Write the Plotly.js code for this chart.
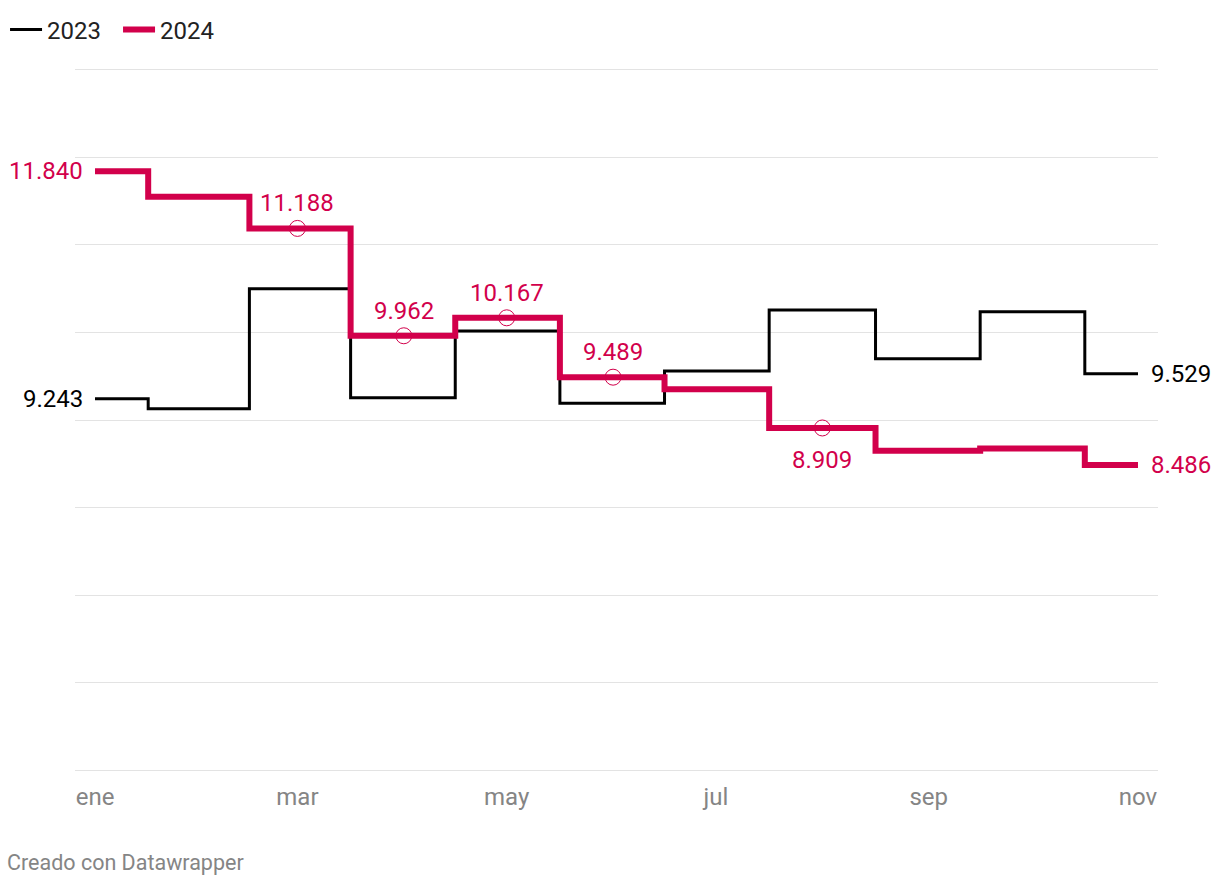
<!DOCTYPE html>
<html>
<head>
<meta charset="utf-8">
<script src="https://cdn.plot.ly/plotly-3.0.1.min.js"></script>
<style>
html,body{margin:0;padding:0;background:#fff;}
#chart{width:1220px;height:886px;}
</style>
</head>
<body>
<div id="chart"></div>
<script>
// Data
var months = ['ene','feb','mar','abr','may','jun','jul','ago','sep','oct','nov'];
var dates = ['2023-01-01','2023-02-01','2023-03-01','2023-04-01','2023-05-01','2023-06-01',
             '2023-07-01','2023-08-01','2023-09-01','2023-10-01','2023-11-01'];
var tickLabels = ['ene','mar','may','jul','sep','nov'];
var values2023 = [9243, 9129, 10499, 9255, 10015, 9190, 9560, 10255, 9700, 10235, 9529];
var values2024 = [11840, 11550, 11188, 9962, 10167, 9489, 9350, 8909, 8650, 8675, 8486];
var markedMonths2024 = ['mar','abr','may','jun','ago'];
var gridValues = [5000,6000,7000,8000,9000,10000,11000,12000,13000];

var RED = '#d2004b';
var BLACK = '#000000';
var GRAY = '#858585';

function fmtEs(v){
  var s = String(Math.round(v));
  return s.replace(/\B(?=(\d{3})+(?!\d))/g, '.');
}
function dateOf(m){ return dates[months.indexOf(m)]; }

var tickDates = tickLabels.map(dateOf);
var markX = markedMonths2024.map(dateOf);
var markY = markedMonths2024.map(function(m){ return values2024[months.indexOf(m)]; });

var traces = [
  {x: dates, y: values2023, type:'scatter', mode:'lines', name:'2023',
   line:{color:BLACK, width:3, shape:'hvh'}, hoverinfo:'skip'},
  {x: dates, y: values2024, type:'scatter', mode:'lines', name:'2024',
   line:{color:RED, width:6, shape:'hvh'}, hoverinfo:'skip'},
  {x: markX, y: markY, type:'scatter', mode:'markers', showlegend:false,
   marker:{symbol:'circle-open', size:16, color:RED, line:{width:1, color:RED}}, hoverinfo:'skip'}
];

var annotations = [];
var labelFont = {family:'Roboto, sans-serif', size:24};
var last = months.length - 1;
annotations.push({x: dates[0], y: values2024[0], xref:'x', yref:'y', text: fmtEs(values2024[0]),
  showarrow:false, xanchor:'right', yanchor:'middle', xshift:-10, font:Object.assign({color:RED}, labelFont)});
annotations.push({x: dates[0], y: values2023[0], xref:'x', yref:'y', text: fmtEs(values2023[0]),
  showarrow:false, xanchor:'right', yanchor:'middle', xshift:-10, font:Object.assign({color:BLACK}, labelFont)});
annotations.push({x: dates[last], y: values2023[last], xref:'x', yref:'y', text: fmtEs(values2023[last]),
  showarrow:false, xanchor:'left', yanchor:'middle', xshift:11, font:Object.assign({color:BLACK}, labelFont)});
annotations.push({x: dates[last], y: values2024[last], xref:'x', yref:'y', text: fmtEs(values2024[last]),
  showarrow:false, xanchor:'left', yanchor:'middle', xshift:11, font:Object.assign({color:RED}, labelFont)});
markedMonths2024.forEach(function(m, i){
  var below = (m === 'ago');
  annotations.push({x: markX[i], y: markY[i], xref:'x', yref:'y', text: fmtEs(markY[i]),
    showarrow:false, xanchor:'center', yanchor:'middle', yshift: below ? -32 : 25,
    font:Object.assign({color:RED}, labelFont)});
});
annotations.push({x:-0.0645, y:-0.128, xref:'paper', yref:'paper', text:'Creado con Datawrapper',
  showarrow:false, xanchor:'left', yanchor:'middle', font:{family:'Roboto, sans-serif', size:21.5, color:GRAY}});

var layout = {
  width:1220, height:886,
  margin:{l:75, r:62, t:68, b:114, autoexpand:false},
  paper_bgcolor:'#fff', plot_bgcolor:'#fff',
  font:{family:'Roboto, sans-serif', size:24, color:'#222'},
  separators:',.',
  showlegend:true,
  legend:{orientation:'h', x:-0.0646, xanchor:'left', y:1.054, yanchor:'middle',
    entrywidth:66, entrywidthmode:'pixels', itemwidth:32,
    font:{family:'Roboto, sans-serif', size:24, color:'#222'}, itemclick:false, traceorder:'normal'},
  xaxis:{type:'date', range:['2022-12-26 04:00', '2023-11-06 20:00'], tickmode:'array', tickvals:tickDates, ticktext:tickLabels,
    showgrid:false, zeroline:false, showline:false, ticks:'', ticklabelstandoff:8,
    tickfont:{size:24, color:GRAY}, fixedrange:true},
  yaxis:{range:[4980, 13020], tickmode:'array', tickvals:gridValues,
    showticklabels:false, showgrid:true, gridcolor:'#e3e3e3', gridwidth:1, zeroline:false, showline:false, ticks:'', fixedrange:true},
  annotations: annotations
};

Plotly.newPlot('chart', traces, layout, {displayModeBar:false, staticPlot:true});
</script>
</body>
</html>
